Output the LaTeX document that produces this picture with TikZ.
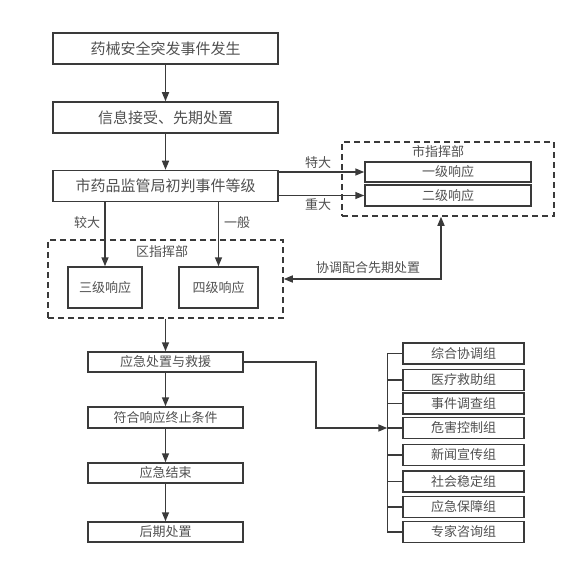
\documentclass[tikz,border=0pt]{standalone}
\usepackage{fontspec}
\newfontfamily\cjk{Noto Sans CJK SC}
\usetikzlibrary{arrows.meta,positioning}
\definecolor{ink}{HTML}{3A3A3A}
\definecolor{word}{HTML}{505050}

\begin{document}
\begin{tikzpicture}[>={Stealth[length=9pt,width=7pt,inset=0pt]}, x=1pt, y=-1pt, line width=1.5pt, draw=ink, text=word]
	\tikzstyle{bigbox} = [draw, minimum width=225pt, minimum height=31pt, font=\cjk\fontsize{15}{17}\selectfont]
	\tikzstyle{smallbox} = [draw, minimum width=155pt, minimum height=20pt, font=\cjk\fontsize{13}{15}\selectfont]
	\tikzstyle{levelbox} = [draw, minimum width=166pt, minimum height=20pt, font=\cjk\fontsize{13}{15}\selectfont]
	\tikzstyle{groupbox} = [draw, minimum width=121pt, minimum height=21pt, font=\cjk\fontsize{13}{15}\selectfont]
	\tikzstyle{hqbox} = [draw, dash pattern=on 6pt off 4pt]
	\tikzstyle{tag} = [font=\cjk\fontsize{13}{15}\selectfont]
	\useasboundingbox (0,0) rectangle (586,564);

	% main chain
	\node[bigbox] (occur) at (165.5,48.5) {药械安全突发事件发生};
	\node[bigbox] (info) at (165.5,117.5) {信息接受、先期处置};
	\node[bigbox] (judge) at (165.5,186) {市药品监管局初判事件等级};

	% city headquarters
	\node[hqbox, minimum width=212pt, minimum height=74pt] (city) at (448,179) {};
	\node[tag] at (438,152) {市指挥部};
	\node[levelbox] (first) at (448,172) {一级响应};
	\node[levelbox, minimum height=21pt] (second) at (448,195.5) {二级响应};

	% district headquarters
	\node[hqbox, minimum width=235pt, minimum height=78pt] (district) at (165.5,279) {};
	\node[tag] at (162,252) {区指挥部};
	\node[draw, minimum width=74pt, minimum height=41pt, font=\cjk\fontsize{13}{15}\selectfont] (third) at (105,287.5) {三级响应};
	\node[draw, minimum width=79pt, minimum height=41pt, font=\cjk\fontsize{13}{15}\selectfont] (fourth) at (218.5,287.5) {四级响应};

	% lower chain
	\node[smallbox] (rescue) at (165.5,362) {应急处置与救援};
	\node[smallbox, minimum height=21pt] (stop) at (165.5,417.5) {符合响应终止条件};
	\node[smallbox] (finish) at (165.5,473) {应急结束};
	\node[smallbox] (after) at (165.5,532) {后期处置};

	% working groups
	\foreach \name/\y/\txt in {g1/353.5/综合协调组, g2/380/医疗救助组, g3/403.5/事件调查组, g4/428/危害控制组,
		g5/455/新闻宣传组, g6/481.5/社会稳定组, g7/507/应急保障组, g8/532/专家咨询组}
		\node[groupbox] (\name) at (463.5,\y) {\txt};

	\path[->]
	(occur) edge (info)
	(info) edge (judge)
	(judge.east |- first.west) edge (first.west)
	(judge.east |- second.west) edge (second.west)
	(judge.south -| third.north) edge (third.north)
	(judge.south -| fourth.north) edge (fourth.north)
	(district.south -| rescue.north) edge (rescue.north)
	(rescue) edge (stop)
	(stop) edge (finish)
	(finish) edge (after)
	;

	\node[tag] at (318,163) {特大};
	\node[tag] at (318,205) {重大};
	\node[tag] at (87,223) {较大};
	\node[tag] at (237,223) {一般};

	% coordination between headquarters
	\coordinate (turn) at (441,279);
	\draw[<->] (city.south -| turn) -- (turn) -- (turn -| district.east);
	\node[tag, above=1pt] at (368,279) {协调配合先期处置};

	% bracket to the groups
	\draw ([xshift=-15pt]g1.west) -- ([xshift=-15pt]g8.west);
	\foreach \name in {g1,g2,g3,g4,g5,g6,g7,g8}
		\draw ([xshift=-15pt]\name.west) -- (\name.west);
	\draw[->] (rescue.east) -- ++(72,0) |- ([xshift=-15pt]g4.west);
\end{tikzpicture}
\end{document}
